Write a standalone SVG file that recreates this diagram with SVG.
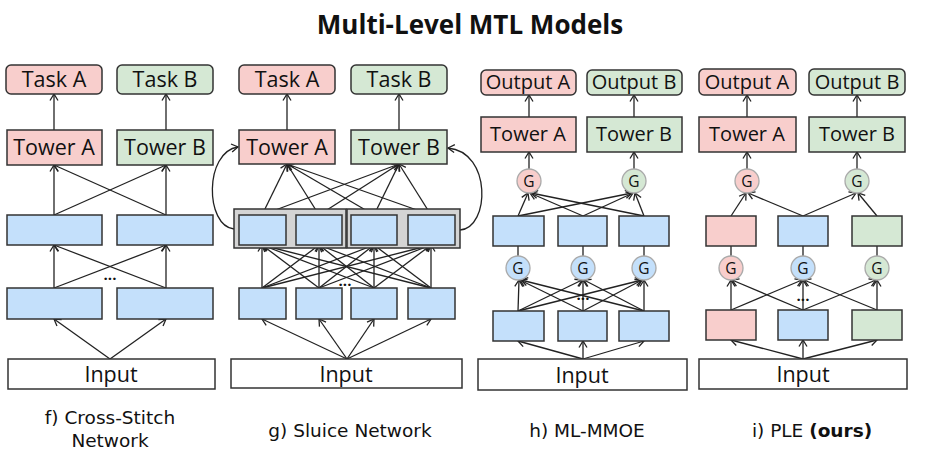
<svg xmlns="http://www.w3.org/2000/svg" width="939" height="454" viewBox="0 0 939 454">
<defs>
<marker id="ah" viewBox="-8 -5 10 10" refX="0" refY="0" markerWidth="10" markerHeight="10" markerUnits="userSpaceOnUse" orient="auto">
<path d="M-6.5,-4 L0,0 L-6.5,4" fill="none" stroke="#222" stroke-width="1.3"/>
</marker>
<style>
text{font-family:"Open Sans","Noto Sans","DejaVu Sans",sans-serif;fill:#111;}
.lbl{font-size:21.5px;text-anchor:middle;}
.lbs{font-size:20px;text-anchor:middle;}
.cap{font-family:"DejaVu Sans",sans-serif;font-size:18.5px;text-anchor:middle;}
.g{font-size:15.5px;text-anchor:middle;}
.dots{font-size:15px;text-anchor:middle;font-weight:bold;}
.pink{fill:#f8cecc;stroke:#333;stroke-width:1.5;}
.green{fill:#d5e8d4;stroke:#333;stroke-width:1.5;}
.blue{fill:#c4e0fb;stroke:#333;stroke-width:1.5;}
.white{fill:#fff;stroke:#333;stroke-width:1.5;}
.grey{fill:#d4d4d4;stroke:#333;stroke-width:1.5;}
.gp{fill:#f8cecc;stroke:#aaa;stroke-width:1.3;}
.gg{fill:#d5e8d4;stroke:#aaa;stroke-width:1.3;}
.gb{fill:#c4e0fb;stroke:#aaa;stroke-width:1.3;}
#connectors line,#connectors path{stroke:#222;stroke-width:1.3;fill:none;}
.a{marker-end:url(#ah);}
</style>
</defs>
<rect width="939" height="454" fill="#fff"/>
<text x="470" y="34" style="font-size:26px;font-weight:bold;text-anchor:middle">Multi-Level MTL Models</text>

<g id="connectors">
<!-- panel f -->
<line class="a" x1="54" y1="130" x2="54" y2="94"/>
<line class="a" x1="166" y1="130" x2="166" y2="94"/>
<line class="a" x1="54" y1="215" x2="54" y2="165"/>
<line class="a" x1="54" y1="215" x2="166" y2="165"/>
<line class="a" x1="166" y1="215" x2="54" y2="165"/>
<line class="a" x1="166" y1="215" x2="166" y2="165"/>
<line class="a" x1="54" y1="288" x2="54" y2="245"/>
<line class="a" x1="54" y1="288" x2="166" y2="245"/>
<line class="a" x1="166" y1="288" x2="54" y2="245"/>
<line class="a" x1="166" y1="288" x2="166" y2="245"/>
<line class="a" x1="110" y1="359" x2="54" y2="319"/>
<line class="a" x1="110" y1="359" x2="166" y2="319"/>
<!-- panel g -->
<line class="a" x1="287" y1="130" x2="287" y2="94"/>
<line class="a" x1="399" y1="130" x2="399" y2="94"/>
<line class="a" x1="262" y1="215" x2="287" y2="164"/>
<line class="a" x1="319" y1="215" x2="287" y2="164"/>
<line class="a" x1="374" y1="215" x2="287" y2="164"/>
<line class="a" x1="431" y1="215" x2="287" y2="164"/>
<line class="a" x1="262" y1="215" x2="399" y2="164"/>
<line class="a" x1="319" y1="215" x2="399" y2="164"/>
<line class="a" x1="374" y1="215" x2="399" y2="164"/>
<line class="a" x1="431" y1="215" x2="399" y2="164"/>
<line class="a" x1="262" y1="288" x2="262" y2="245"/>
<line class="a" x1="262" y1="288" x2="319" y2="245"/>
<line class="a" x1="262" y1="288" x2="374" y2="245"/>
<line class="a" x1="262" y1="288" x2="431" y2="245"/>
<line class="a" x1="319" y1="288" x2="262" y2="245"/>
<line class="a" x1="319" y1="288" x2="319" y2="245"/>
<line class="a" x1="319" y1="288" x2="374" y2="245"/>
<line class="a" x1="319" y1="288" x2="431" y2="245"/>
<line class="a" x1="374" y1="288" x2="262" y2="245"/>
<line class="a" x1="374" y1="288" x2="319" y2="245"/>
<line class="a" x1="374" y1="288" x2="374" y2="245"/>
<line class="a" x1="374" y1="288" x2="431" y2="245"/>
<line class="a" x1="431" y1="288" x2="262" y2="245"/>
<line class="a" x1="431" y1="288" x2="319" y2="245"/>
<line class="a" x1="431" y1="288" x2="374" y2="245"/>
<line class="a" x1="431" y1="288" x2="431" y2="245"/>
<line class="a" x1="347" y1="359" x2="262" y2="319"/>
<line class="a" x1="347" y1="359" x2="319" y2="319"/>
<line class="a" x1="347" y1="359" x2="374" y2="319"/>
<line class="a" x1="347" y1="359" x2="431" y2="319"/>
<path class="a" d="M234,229 C205,226 204,152 238,147"/>
<path class="a" d="M460,230 C490,228 492,152 448,148"/>
<!-- panel h -->
<line class="a" x1="529" y1="117" x2="529" y2="95"/>
<line class="a" x1="634" y1="117" x2="634" y2="95"/>
<line class="a" x1="529" y1="169" x2="529" y2="152"/>
<line class="a" x1="634" y1="169" x2="634" y2="152"/>
<line class="a" x1="518" y1="216" x2="528" y2="193"/>
<line class="a" x1="583" y1="216" x2="530" y2="193"/>
<line class="a" x1="644" y1="216" x2="531" y2="193"/>
<line class="a" x1="518" y1="216" x2="632" y2="193"/>
<line class="a" x1="583" y1="216" x2="633" y2="193"/>
<line class="a" x1="644" y1="216" x2="635" y2="193"/>
<line x1="518" y1="246" x2="518" y2="256"/>
<line x1="583" y1="246" x2="583" y2="256"/>
<line x1="644" y1="246" x2="644" y2="256"/>
<line class="a" x1="518" y1="311" x2="519" y2="280"/>
<line class="a" x1="518" y1="311" x2="582" y2="280"/>
<line class="a" x1="518" y1="311" x2="642" y2="280"/>
<line class="a" x1="583" y1="311" x2="520" y2="280"/>
<line class="a" x1="583" y1="311" x2="583" y2="280"/>
<line class="a" x1="583" y1="311" x2="642" y2="280"/>
<line class="a" x1="644" y1="311" x2="521" y2="280"/>
<line class="a" x1="644" y1="311" x2="584" y2="280"/>
<line class="a" x1="644" y1="311" x2="644" y2="280"/>
<line class="a" x1="583" y1="359" x2="518" y2="341"/>
<line class="a" x1="583" y1="359" x2="583" y2="341"/>
<line class="a" x1="583" y1="359" x2="644" y2="341"/>
<!-- panel i -->
<line class="a" x1="747" y1="117" x2="747" y2="95"/>
<line class="a" x1="857" y1="117" x2="857" y2="95"/>
<line class="a" x1="747" y1="169" x2="747" y2="152"/>
<line class="a" x1="857" y1="169" x2="857" y2="152"/>
<line class="a" x1="731" y1="216" x2="746" y2="193"/>
<line class="a" x1="803" y1="216" x2="748" y2="193"/>
<line class="a" x1="803" y1="216" x2="856" y2="193"/>
<line class="a" x1="877" y1="216" x2="858" y2="193"/>
<line x1="731" y1="246" x2="731" y2="256"/>
<line x1="803" y1="246" x2="803" y2="256"/>
<line x1="877" y1="246" x2="877" y2="256"/>
<line class="a" x1="731" y1="310" x2="731" y2="280"/>
<line class="a" x1="731" y1="310" x2="802" y2="280"/>
<line class="a" x1="803" y1="310" x2="732" y2="280"/>
<line class="a" x1="803" y1="310" x2="803" y2="280"/>
<line class="a" x1="803" y1="310" x2="876" y2="280"/>
<line class="a" x1="877" y1="310" x2="804" y2="280"/>
<line class="a" x1="877" y1="310" x2="877" y2="280"/>
<line class="a" x1="803" y1="359" x2="731" y2="340"/>
<line class="a" x1="803" y1="359" x2="803" y2="340"/>
<line class="a" x1="803" y1="359" x2="877" y2="340"/>
</g>

<!-- Panel f -->
<g id="f-taskA"><rect class="pink" x="6" y="65" width="96" height="29" rx="5"/><text class="lbl" x="54" y="87">Task A</text></g>
<g id="f-taskB"><rect class="green" x="117" y="65" width="96" height="29" rx="5"/><text class="lbl" x="165" y="87">Task B</text></g>
<g id="f-towerA"><rect class="pink" x="7" y="130" width="95" height="35"/><text class="lbl" x="54" y="155">Tower A</text></g>
<g id="f-towerB"><rect class="green" x="117" y="130" width="96" height="35"/><text class="lbl" x="165" y="155">Tower B</text></g>
<g id="f-u1"><rect class="blue" x="7" y="215" width="95" height="30"/></g>
<g id="f-u2"><rect class="blue" x="117" y="215" width="96" height="30"/></g>
<g id="f-l1"><rect class="blue" x="7" y="288" width="95" height="31"/></g>
<g id="f-l2"><rect class="blue" x="117" y="288" width="96" height="31"/></g>
<text class="dots" x="110" y="280">...</text>
<g id="f-input"><rect class="white" x="8" y="359" width="207" height="30"/><text class="lbl" x="111" y="382">Input</text></g>
<text class="cap" x="110" y="424">f) Cross-Stitch</text>
<text class="cap" x="110" y="447">Network</text>

<!-- Panel g -->
<g id="g-taskA"><rect class="pink" x="239" y="65" width="96" height="29" rx="5"/><text class="lbl" x="287" y="87">Task A</text></g>
<g id="g-taskB"><rect class="green" x="351" y="65" width="96" height="29" rx="5"/><text class="lbl" x="399" y="87">Task B</text></g>
<g id="g-towerA"><rect class="pink" x="239" y="130" width="96" height="34"/><text class="lbl" x="287" y="155">Tower A</text></g>
<g id="g-towerB"><rect class="green" x="351" y="130" width="96" height="34"/><text class="lbl" x="399" y="155">Tower B</text></g>
<g id="g-group1"><rect class="grey" x="234" y="209" width="112" height="39"/></g>
<g id="g-group2"><rect class="grey" x="347" y="209" width="113" height="39"/></g>
<g id="g-u1"><rect class="blue" x="239" y="215" width="47" height="30"/></g>
<g id="g-u2"><rect class="blue" x="296" y="215" width="46" height="30"/></g>
<g id="g-u3"><rect class="blue" x="351" y="215" width="46" height="30"/></g>
<g id="g-u4"><rect class="blue" x="408" y="215" width="47" height="30"/></g>
<g id="g-l1"><rect class="blue" x="239" y="288" width="47" height="31"/></g>
<g id="g-l2"><rect class="blue" x="296" y="288" width="46" height="31"/></g>
<g id="g-l3"><rect class="blue" x="351" y="288" width="46" height="31"/></g>
<g id="g-l4"><rect class="blue" x="408" y="288" width="47" height="31"/></g>
<text class="dots" x="345" y="286">...</text>
<g id="g-input"><rect class="white" x="231" y="359" width="231" height="29"/><text class="lbl" x="346" y="382">Input</text></g>
<text class="cap" x="350" y="437">g) Sluice Network</text>

<!-- Panel h -->
<g id="h-outA"><rect class="pink" x="481" y="70" width="95" height="25" rx="5"/><text class="lbs" x="528" y="89">Output A</text></g>
<g id="h-outB"><rect class="green" x="587" y="70" width="95" height="25" rx="5"/><text class="lbs" x="634" y="89">Output B</text></g>
<g id="h-towerA"><rect class="pink" x="481" y="117" width="95" height="35"/><text class="lbs" x="528" y="141">Tower A</text></g>
<g id="h-towerB"><rect class="green" x="587" y="117" width="95" height="35"/><text class="lbs" x="634" y="141">Tower B</text></g>
<g id="h-gA"><circle class="gp" cx="529" cy="181" r="12"/><text class="g" x="529" y="186.5">G</text></g>
<g id="h-gB"><circle class="gg" cx="634" cy="181" r="12"/><text class="g" x="634" y="186.5">G</text></g>
<g id="h-u1"><rect class="blue" x="493" y="216" width="51" height="30"/></g>
<g id="h-u2"><rect class="blue" x="558" y="216" width="49" height="30"/></g>
<g id="h-u3"><rect class="blue" x="619" y="216" width="50" height="30"/></g>
<g id="h-g1"><circle class="gb" cx="518" cy="268" r="12"/><text class="g" x="518" y="273.5">G</text></g>
<g id="h-g2"><circle class="gb" cx="583" cy="268" r="12"/><text class="g" x="583" y="273.5">G</text></g>
<g id="h-g3"><circle class="gb" cx="644" cy="268" r="12"/><text class="g" x="644" y="273.5">G</text></g>
<g id="h-l1"><rect class="blue" x="493" y="311" width="51" height="30"/></g>
<g id="h-l2"><rect class="blue" x="558" y="311" width="49" height="30"/></g>
<g id="h-l3"><rect class="blue" x="619" y="311" width="50" height="30"/></g>
<text class="dots" x="583" y="300">...</text>
<g id="h-input"><rect class="white" x="478" y="359" width="209" height="31"/><text class="lbl" x="582" y="383">Input</text></g>
<text class="cap" x="587" y="437">h) ML-MMOE</text>

<!-- Panel i -->
<g id="i-outA"><rect class="pink" x="699" y="69" width="97" height="26" rx="5"/><text class="lbs" x="747" y="89">Output A</text></g>
<g id="i-outB"><rect class="green" x="809" y="69" width="96" height="26" rx="5"/><text class="lbs" x="857" y="89">Output B</text></g>
<g id="i-towerA"><rect class="pink" x="699" y="117" width="97" height="35"/><text class="lbs" x="747" y="141">Tower A</text></g>
<g id="i-towerB"><rect class="green" x="809" y="117" width="96" height="35"/><text class="lbs" x="857" y="141">Tower B</text></g>
<g id="i-gA"><circle class="gp" cx="747" cy="181" r="12"/><text class="g" x="747" y="186.5">G</text></g>
<g id="i-gB"><circle class="gg" cx="857" cy="181" r="12"/><text class="g" x="857" y="186.5">G</text></g>
<g id="i-u1"><rect class="pink" x="706" y="216" width="50" height="30"/></g>
<g id="i-u2"><rect class="blue" x="778" y="216" width="50" height="30"/></g>
<g id="i-u3"><rect class="green" x="852" y="216" width="50" height="30"/></g>
<g id="i-g1"><circle class="gp" cx="731" cy="268" r="12"/><text class="g" x="731" y="273.5">G</text></g>
<g id="i-g2"><circle class="gb" cx="803" cy="268" r="12"/><text class="g" x="803" y="273.5">G</text></g>
<g id="i-g3"><circle class="gg" cx="877" cy="268" r="12"/><text class="g" x="877" y="273.5">G</text></g>
<g id="i-l1"><rect class="pink" x="706" y="310" width="50" height="30"/></g>
<g id="i-l2"><rect class="blue" x="778" y="310" width="50" height="30"/></g>
<g id="i-l3"><rect class="green" x="852" y="310" width="50" height="30"/></g>
<text class="dots" x="803" y="301">...</text>
<g id="i-input"><rect class="white" x="699" y="359" width="208" height="30"/><text class="lbl" x="803" y="382">Input</text></g>
<text class="cap" x="812" y="437">i) PLE <tspan style="font-weight:bold">(ours)</tspan></text>
</svg>
